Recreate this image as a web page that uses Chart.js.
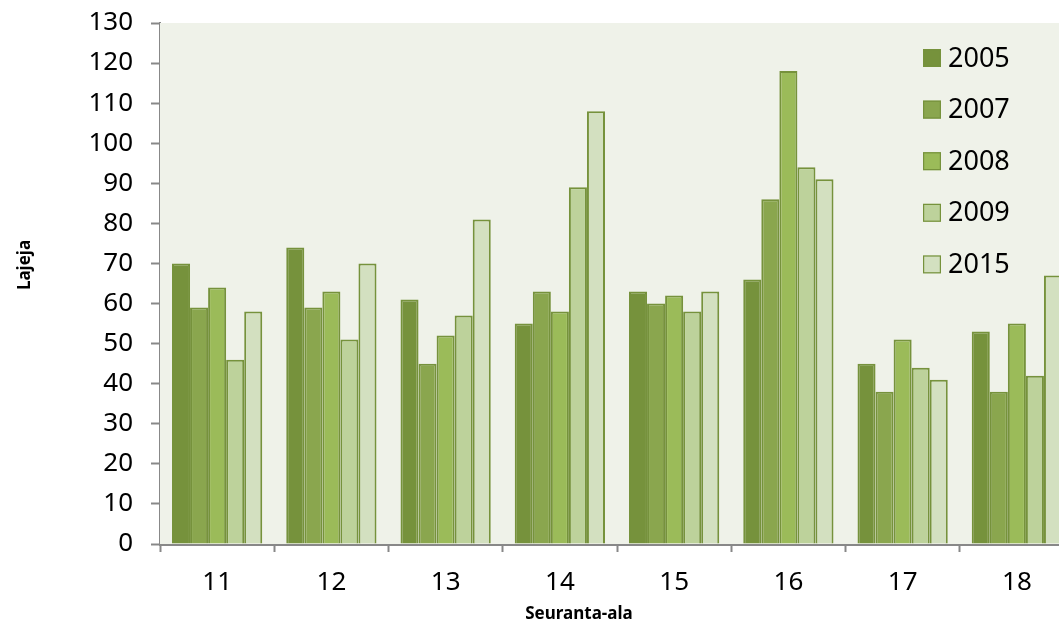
<!DOCTYPE html>
<html>
<head>
<meta charset="UTF-8" />
<script src="https://cdn.jsdelivr.net/npm/chart.js"></script>
<style>
  html, body { margin: 0; padding: 0; background: #ffffff; overflow: hidden; }
  #wrap { position: absolute; left: 0; top: 0; width: 1080px; height: 629px; }
</style>
</head>
<body>
<div id="wrap"><canvas id="chart" width="1080" height="629"></canvas></div>
<script>
  // Seuranta-alat ja lajimäärät vuosittain
  const sites = ["11", "12", "13", "14", "15", "16", "17", "18"];
  const years = ["2005", "2007", "2008", "2009", "2015"];
  const v2005 = [70, 74, 61, 55, 63, 66, 45, 53];
  const v2007 = [59, 59, 45, 63, 60, 86, 38, 38];
  const v2008 = [64, 63, 52, 58, 62, 118, 51, 55];
  const v2009 = [46, 51, 57, 89, 58, 94, 44, 42];
  const v2015 = [58, 70, 81, 108, 63, 91, 41, 67];
  const yTicks = [0, 10, 20, 30, 40, 50, 60, 70, 80, 90, 100, 110, 120, 130];

  const fills = ["#76923c", "#8aa64e", "#9bbb59", "#bdd29b", "#d3e0c0"];
  const edge = "#76923c";
  const font = "'Noto Sans', 'Open Sans', sans-serif";

  const series = [v2005, v2007, v2008, v2009, v2015];
  const datasets = years.map((y, i) => ({
    label: y,
    data: series[i],
    backgroundColor: fills[i],
    borderColor: edge,
    borderWidth: 2,
    categoryPercentage: 0.79,
    barPercentage: 1.0
  }));

  // taustaväri piirtoalueelle
  const plotBg = {
    id: "plotBg",
    beforeDatasetsDraw(chart) {
      const { ctx, chartArea: a } = chart;
      ctx.save();
      ctx.fillStyle = "#eff2e9";
      ctx.fillRect(a.left, a.top, a.right - a.left, a.bottom - a.top);
      ctx.restore();
    }
  };

  // selite piirtoalueen sisällä oikealla + akselien otsikot
  const extras = {
    id: "extras",
    afterDraw(chart) {
      const { ctx, chartArea: a } = chart;
      ctx.save();
      ctx.textBaseline = "middle";
      ctx.font = "27px " + font;
      chart.data.datasets.forEach((ds, i) => {
        const cy = a.top + 35 + i * 51.6;
        const bx = a.left + 763;
        ctx.fillStyle = ds.backgroundColor;
        ctx.fillRect(bx, cy - 9, 18, 18);
        ctx.strokeStyle = edge;
        ctx.lineWidth = 1.2;
        ctx.strokeRect(bx + 0.6, cy - 8.4, 16.8, 16.8);
        ctx.fillStyle = "#000000";
        ctx.textAlign = "left";
        ctx.fillText(ds.label, bx + 25, cy + 1);
      });

      ctx.font = "bold 17px " + font;
      ctx.textAlign = "center";
      ctx.fillText("Seuranta-ala", 579, 614);
      ctx.translate(25, 265);
      ctx.rotate(-Math.PI / 2);
      ctx.fillText("Lajeja", 0, 0);
      ctx.restore();
    }
  };

  new Chart(document.getElementById("chart"), {
    type: "bar",
    data: { labels: sites, datasets },
    plugins: [plotBg, extras],
    options: {
      responsive: false,
      animation: false,
      layout: { padding: { top: 23, right: 6, left: 0, bottom: 0 } },
      plugins: { legend: { display: false }, tooltip: { enabled: false } },
      scales: {
        x: {
          grid: {
            offset: true,
            drawOnChartArea: false,
            drawTicks: true,
            tickLength: 8,
            tickColor: "#888888",
            tickWidth: 2
          },
          border: { color: "#888888", width: 3 },
          ticks: { color: "#000000", font: { family: font, size: 26 }, padding: 15 },
          afterFit(scale) { scale.height = 85; }
        },
        y: {
          min: 0,
          max: 130,
          afterBuildTicks(scale) { scale.ticks = yTicks.map(v => ({ value: v })); },
          grid: {
            drawOnChartArea: false,
            drawTicks: true,
            tickLength: 9,
            tickColor: "#888888",
            tickWidth: 2
          },
          border: { color: "#888888", width: 2 },
          ticks: { color: "#000000", font: { family: font, size: 26 }, padding: 18 },
          afterFit(scale) {
            scale.width = 160;
            scale.paddingTop = 0;
            scale.paddingBottom = 0;
          }
        }
      }
    }
  });
</script>
</body>
</html>
